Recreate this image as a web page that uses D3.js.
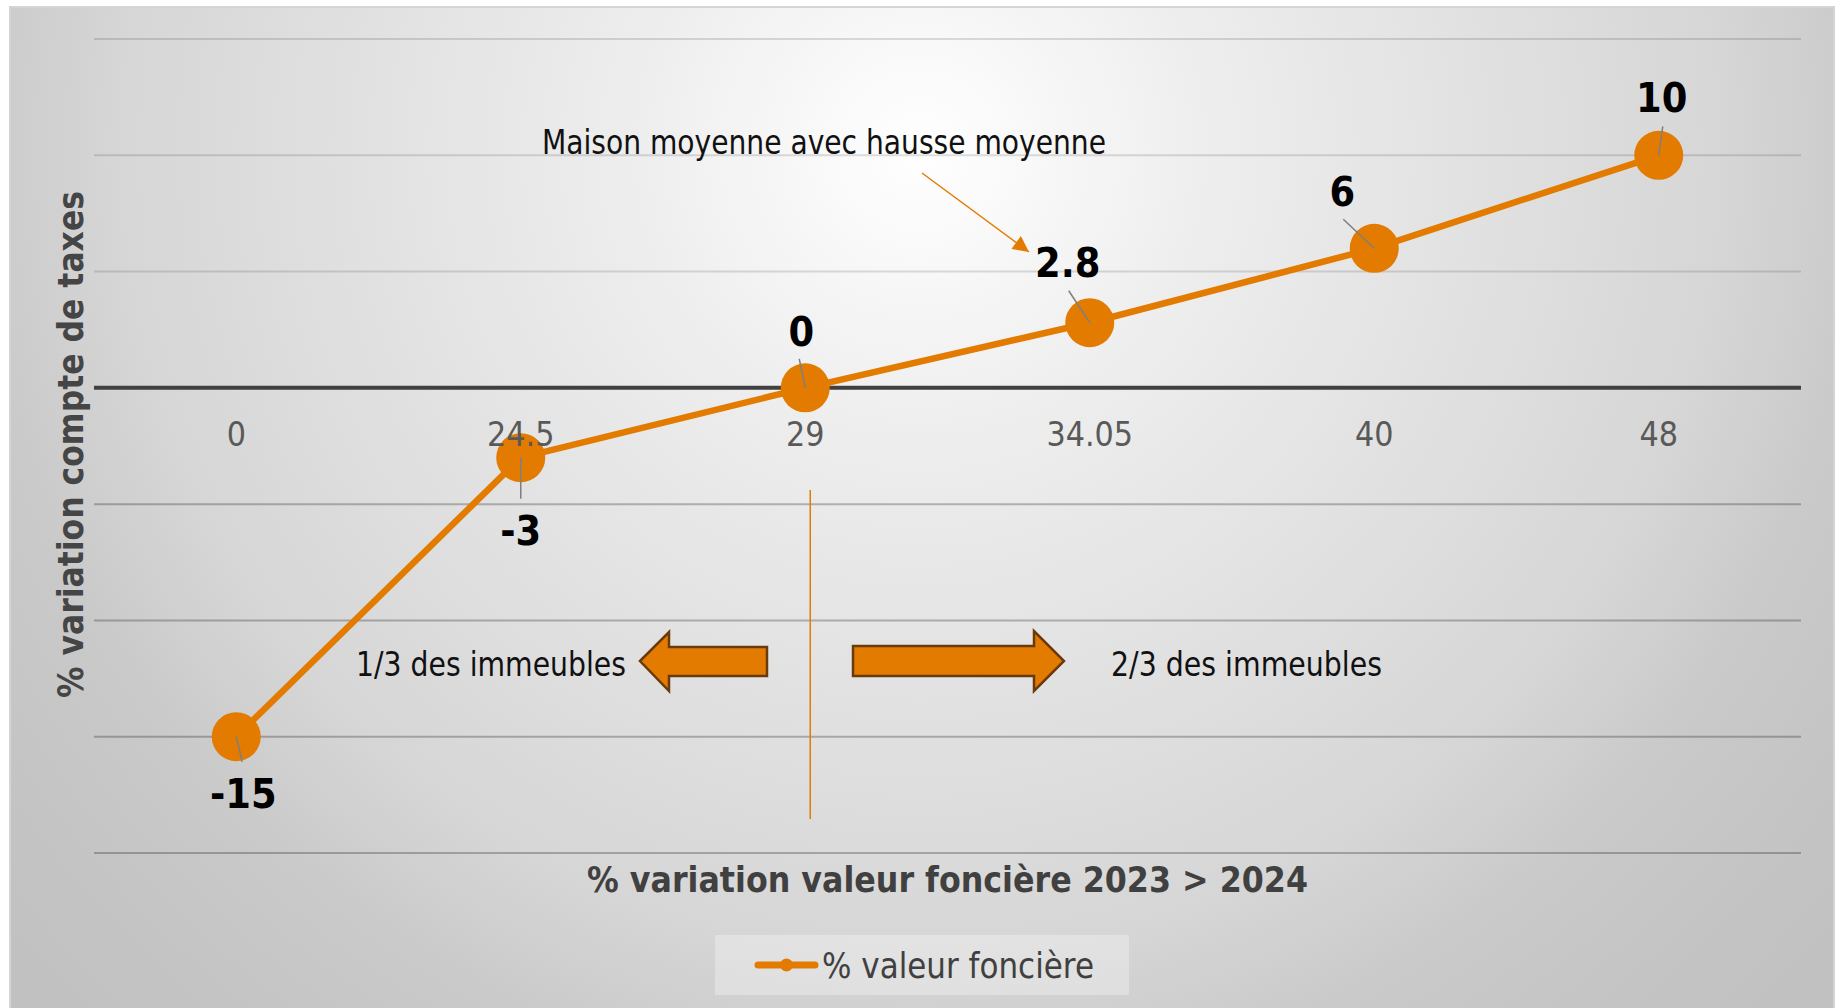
<!DOCTYPE html>
<html>
<head>
<meta charset="utf-8">
<script src="https://cdn.jsdelivr.net/npm/d3@7"></script>
<style>
  body { margin: 0; background: #fff; }
  svg { display: block; }
  text { font-family: "DejaVu Sans", Verdana, sans-serif; }
</style>
</head>
<body>
<svg id="chart" width="1837" height="1008"></svg>
<script>
// chart data
const categories = ['0', '24.5', '29', '34.05', '40', '48'];
const taxChange = [-15, -3, 0, 2.8, 6, 10];
const yTicks = [-20, -15, -10, -5, 0, 5, 10, 15];
const seriesName = '% valeur foncière';
const xTitle = '% variation valeur foncière 2023 > 2024';
const yTitle = '% variation compte de taxes';
const noteText = 'Maison moyenne avec hausse moyenne';
const leftText = '1/3 des immeubles';
const rightText = '2/3 des immeubles';

// layout for the data labels (offset from the point) and their leader lines
const labelShift = [[7, 56], [0, 72], [-4, -57], [-22, -61], [-32, -57], [3, -58]];
const leaderEnd = [[6, 25], [0, 41], [-6, -29], [-21, -32], [-31, -29], [4, -29]];

const orange = '#e27b00';
const svg = d3.select('#chart');

const x = d3.scalePoint().domain(categories).range([94, 1801]).padding(0.5);
const y = d3.scaleLinear().domain([-20, 15]).range([853, 39]);

const points = categories.map((c, i) => ({ cat: c, v: taxChange[i], i: i }));

// background
const defs = svg.append('defs');
const grad = defs.append('radialGradient')
    .attr('id', 'bg').attr('gradientUnits', 'userSpaceOnUse')
    .attr('cx', 920).attr('cy', 150).attr('r', 1200);
[[0, '#ffffff'], [0.25, '#ededed'], [0.67, '#d6d6d6'], [0.8, '#c9c9c9'], [1, '#c1c1c1']]
    .forEach(s => grad.append('stop').attr('offset', s[0]).attr('stop-color', s[1]));

defs.append('marker')
    .attr('id', 'tip').attr('markerUnits', 'userSpaceOnUse')
    .attr('viewBox', '0 0 10 10').attr('refX', 10).attr('refY', 5)
    .attr('markerWidth', 20).attr('markerHeight', 16).attr('orient', 'auto')
    .append('path').attr('d', 'M0,0 L10,5 L0,10 Z').attr('fill', orange);

svg.append('rect')
    .attr('x', 10).attr('y', 7).attr('width', 1824).attr('height', 1010)
    .attr('fill', 'url(#bg)').attr('stroke', '#d4d4d4').attr('stroke-width', 2);

// gridlines (lighter above zero, as in the original)
svg.append('g').selectAll('line')
    .data(yTicks.filter(t => t !== 0))
    .join('line')
    .attr('x1', 94).attr('x2', 1801)
    .attr('y1', d => y(d)).attr('y2', d => y(d))
    .attr('stroke', d => d > 0 ? 'rgba(0,0,0,0.13)' : 'rgba(0,0,0,0.25)')
    .attr('stroke-width', 2);

svg.append('line')
    .attr('x1', 94).attr('x2', 1801)
    .attr('y1', y(0)).attr('y2', y(0))
    .attr('stroke', '#404040').attr('stroke-width', 4);

// split line
svg.append('line')
    .attr('x1', x('29') + 5).attr('x2', x('29') + 5)
    .attr('y1', 490).attr('y2', 819)
    .attr('stroke', orange).attr('stroke-width', 1.5);

// series line + markers
svg.append('path')
    .datum(points)
    .attr('fill', 'none').attr('stroke', orange).attr('stroke-width', 6.5)
    .attr('stroke-linejoin', 'round')
    .attr('d', d3.line().x(d => x(d.cat)).y(d => y(d.v)));

svg.append('g').selectAll('circle')
    .data(points)
    .join('circle')
    .attr('cx', d => x(d.cat)).attr('cy', d => y(d.v)).attr('r', 24.5)
    .attr('fill', orange);

// tick labels (sit on top of the markers like in the original)
svg.append('g').selectAll('text')
    .data(categories)
    .join('text')
    .attr('transform', d => `translate(${x(d)},${y(0) + 58}) scale(0.89,1)`)
    .attr('text-anchor', 'middle')
    .attr('font-size', 34).attr('fill', '#595959')
    .text(d => d);

// leader lines
svg.append('g').selectAll('line')
    .data(points)
    .join('line')
    .attr('x1', d => x(d.cat)).attr('y1', d => y(d.v))
    .attr('x2', d => x(d.cat) + leaderEnd[d.i][0])
    .attr('y2', d => y(d.v) + leaderEnd[d.i][1])
    .attr('stroke', '#7f7f7f').attr('stroke-width', 1.5);

// data labels
svg.append('g').selectAll('text')
    .data(points)
    .join('text')
    .attr('transform', d => `translate(${x(d.cat) + labelShift[d.i][0]},${y(d.v) + labelShift[d.i][1] + 15}) scale(0.9,1)`)
    .attr('text-anchor', 'middle')
    .attr('font-size', 41).attr('font-weight', 'bold').attr('fill', '#000')
    .text(d => d.v);

// annotation
svg.append('text')
    .attr('x', 542).attr('y', 154)
    .attr('font-size', 33).attr('fill', '#111')
    .attr('textLength', 564).attr('lengthAdjust', 'spacingAndGlyphs')
    .text(noteText);

svg.append('line')
    .attr('x1', 922).attr('y1', 173).attr('x2', 1029).attr('y2', 252)
    .attr('stroke', orange).attr('stroke-width', 1.5)
    .attr('marker-end', 'url(#tip)');

// block arrows
const arrowStyle = s => s.attr('fill', orange).attr('stroke', '#6b3a0c').attr('stroke-width', 2.5);
svg.append('polygon')
    .attr('points', '640,661 669,632 669,647 767,647 767,676 669,676 669,691')
    .call(arrowStyle);
svg.append('polygon')
    .attr('points', '853,646 1034,646 1034,631 1064,661 1034,691 1034,676 853,676')
    .call(arrowStyle);

svg.append('text')
    .attr('x', 356).attr('y', 676)
    .attr('font-size', 33).attr('fill', '#111')
    .attr('textLength', 270).attr('lengthAdjust', 'spacingAndGlyphs')
    .text(leftText);
svg.append('text')
    .attr('x', 1111).attr('y', 676)
    .attr('font-size', 33).attr('fill', '#111')
    .attr('textLength', 271).attr('lengthAdjust', 'spacingAndGlyphs')
    .text(rightText);

// axis titles
svg.append('text')
    .attr('x', 587).attr('y', 892)
    .attr('font-size', 35).attr('font-weight', 'bold').attr('fill', '#404040')
    .attr('textLength', 721).attr('lengthAdjust', 'spacingAndGlyphs')
    .text(xTitle);

svg.append('text')
    .attr('transform', 'translate(83,698) rotate(-90)')
    .attr('font-size', 36).attr('font-weight', 'bold').attr('fill', '#454545')
    .attr('textLength', 507).attr('lengthAdjust', 'spacingAndGlyphs')
    .text(yTitle);

// legend
const legend = svg.append('g');
legend.append('rect')
    .attr('x', 715).attr('y', 935).attr('width', 414).attr('height', 60)
    .attr('fill', 'rgba(255,255,255,0.3)');
legend.append('line')
    .attr('x1', 758).attr('x2', 815).attr('y1', 965).attr('y2', 965)
    .attr('stroke', orange).attr('stroke-width', 7).attr('stroke-linecap', 'round');
legend.append('circle')
    .attr('cx', 786.5).attr('cy', 965).attr('r', 6.5).attr('fill', orange);
legend.append('text')
    .attr('x', 822).attr('y', 978)
    .attr('font-size', 35).attr('fill', '#404040')
    .attr('textLength', 272).attr('lengthAdjust', 'spacingAndGlyphs')
    .text(seriesName);
</script>
</body>
</html>
